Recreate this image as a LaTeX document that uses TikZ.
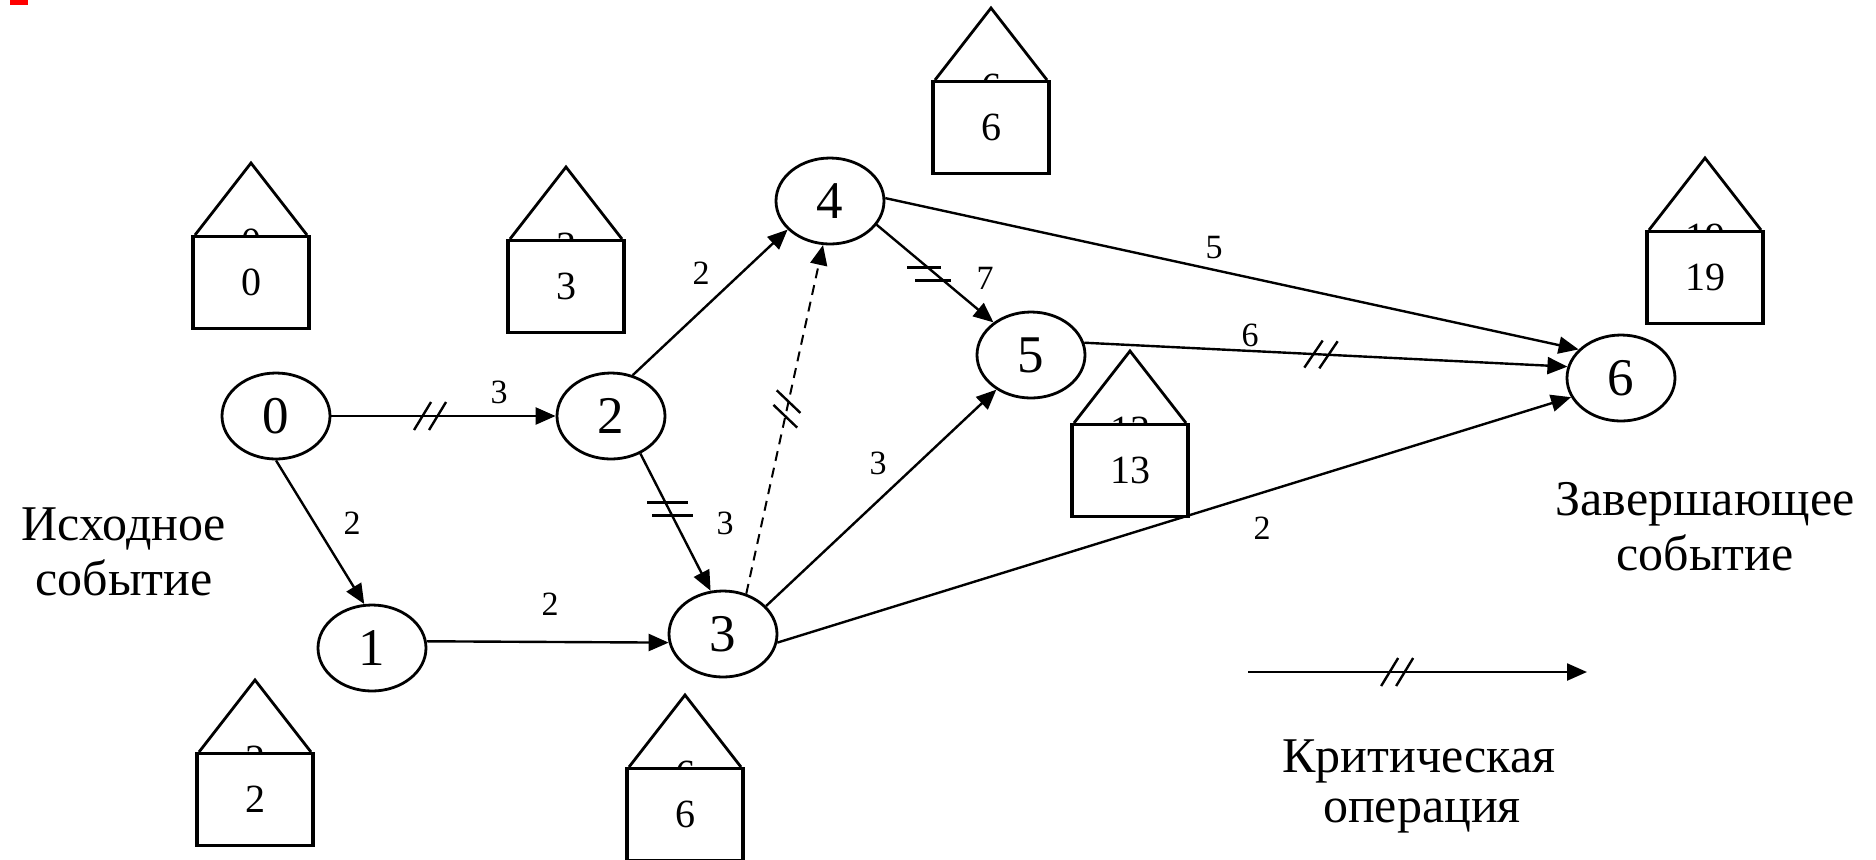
\documentclass[tikz,border=0pt]{standalone}
\usepackage{fontspec}
\setmainfont{Liberation Serif}
\usetikzlibrary{shapes.geometric,arrows.meta,decorations.markings,calc}
\newcommand\EvBox[4]{%
  \node[peek] (#1p) at (#2,#3+7) {#4};
  \draw[roof] (#2-56,#3) -- (#2,#3-72) -- (#2+56,#3);
  \node[boxn] (#1) at (#2,#3) {#4};
}
\begin{document}
\begin{tikzpicture}[x=0.5pt,y=-0.5pt,
  ev/.style={ellipse, draw, line width=1.4pt, minimum width=54pt, minimum height=43pt, inner sep=0pt, font=\fontsize{26.5}{30}\selectfont},
  arr/.style={line width=1.2pt, -{Triangle[length=10pt,width=8.5pt]}},
  lbl/.style={font=\fontsize{17}{20}\selectfont, inner sep=0pt},
  txt/.style={font=\fontsize{25}{28}\selectfont, inner sep=0pt, anchor=base},
  boxn/.style={draw, fill=white, line width=1.7pt, minimum width=58pt, minimum height=46pt, inner sep=0pt, anchor=north, font=\fontsize{20}{24}\selectfont},
  peek/.style={inner sep=0pt, font=\fontsize{20}{24}\selectfont},
  roof/.style={line width=1.4pt, line join=miter},
  crit/.style={postaction={decorate, decoration={markings, mark=at position #1 with {\draw[-, solid, line width=1.2pt] (-8pt,-7pt) -- (0.5pt,7pt) (-0.5pt,-7pt) -- (8pt,7pt);}}}},
  eqbar/.style={line width=1.4pt},
  dash2/.style={dash pattern=on 5pt off 3.5pt}
]
\useasboundingbox (0,0) rectangle (1876,859);
\fill[red] (10,0) rectangle (28,5);

% event boxes
\EvBox{b0}{251}{235}{0}
\EvBox{b3}{566}{239}{3}
\EvBox{b6a}{991}{80}{6}
\EvBox{b19}{1705}{230}{19}
\EvBox{b13}{1130}{423}{13}
\EvBox{b2}{255}{752}{2}
\EvBox{b6b}{685}{767}{6}

% events
\node[ev] (n0) at (276,416) {0};
\node[ev] (n1) at (372,648) {1};
\node[ev] (n2) at (611,416) {2};
\node[ev] (n3) at (723,634) {3};
\node[ev] (n4) at (830,201) {4};
\node[ev] (n5) at (1031,355) {5};
\node[ev] (n6) at (1621,378) {6};

% operations
\draw[arr, crit=0.44] (n0.east) -- (n2.west);
\draw[arr] (n0.south) -- (n1.100);
\draw[arr] (n1.7) -- (n3.189);
\draw[arr] (n2.308) -- (n3.106) coordinate[pos=0.40] (q23);
\draw[arr] (n2.62) -- (n4.214);
\draw[arr, dash2, line width=1pt, crit=0.53] (n3.60) -- (n4.261);
\draw[arr] (n3.33) -- (n5.225);
\draw[arr] (n3.351) -- (n6.201);
\draw[arr] (n4.333) -- (n5.139) coordinate[pos=0.5] (q45);
\draw[arr] (n4.3) -- (n6.146);
\draw[arr, crit=0.49] (n5.13) -- (n6.168);

% critical "=" marks
\draw[eqbar] ($(q23)+(-21,-6)$) -- ++(41,0) ($(q23)+(-16,7)$) -- ++(41,0);
\draw[eqbar] ($(q45)+(-28,-6.5)$) -- ++(34,0) ($(q45)+(-20,6.5)$) -- ++(36,0);

% durations
\node[lbl] (l02) at (499,392) {3};
\node[lbl] (l01) at (352,523) {2};
\node[lbl] (l13) at (550,604) {2};
\node[lbl] (l23) at (725,523) {3};
\node[lbl] (l24) at (701,273) {2};
\node[lbl] (l35) at (878,463) {3};
\node[lbl] (l45) at (985,278) {7};
\node[lbl] (l46) at (1214,248) {5};
\node[lbl] (l56) at (1250,335) {6};
\node[lbl] (l36) at (1262,528) {2};

% captions
\node[txt] (s0a) at (124,540) {Исходное};
\node[txt] (s0b) at (124,595) {событие};
\node[txt] (s6a) at (1705,515) {Завершающее};
\node[txt] (s6b) at (1705,570) {событие};

% legend
\coordinate (la) at (1248,672);
\coordinate (lb) at (1587,672);
\draw[arr, crit=0.44] (la) -- (lb);
\node[txt] (k1) at (1419,772) {Критическая};
\node[txt] (k2) at (1422,822) {операция};
\end{tikzpicture}
\end{document}
